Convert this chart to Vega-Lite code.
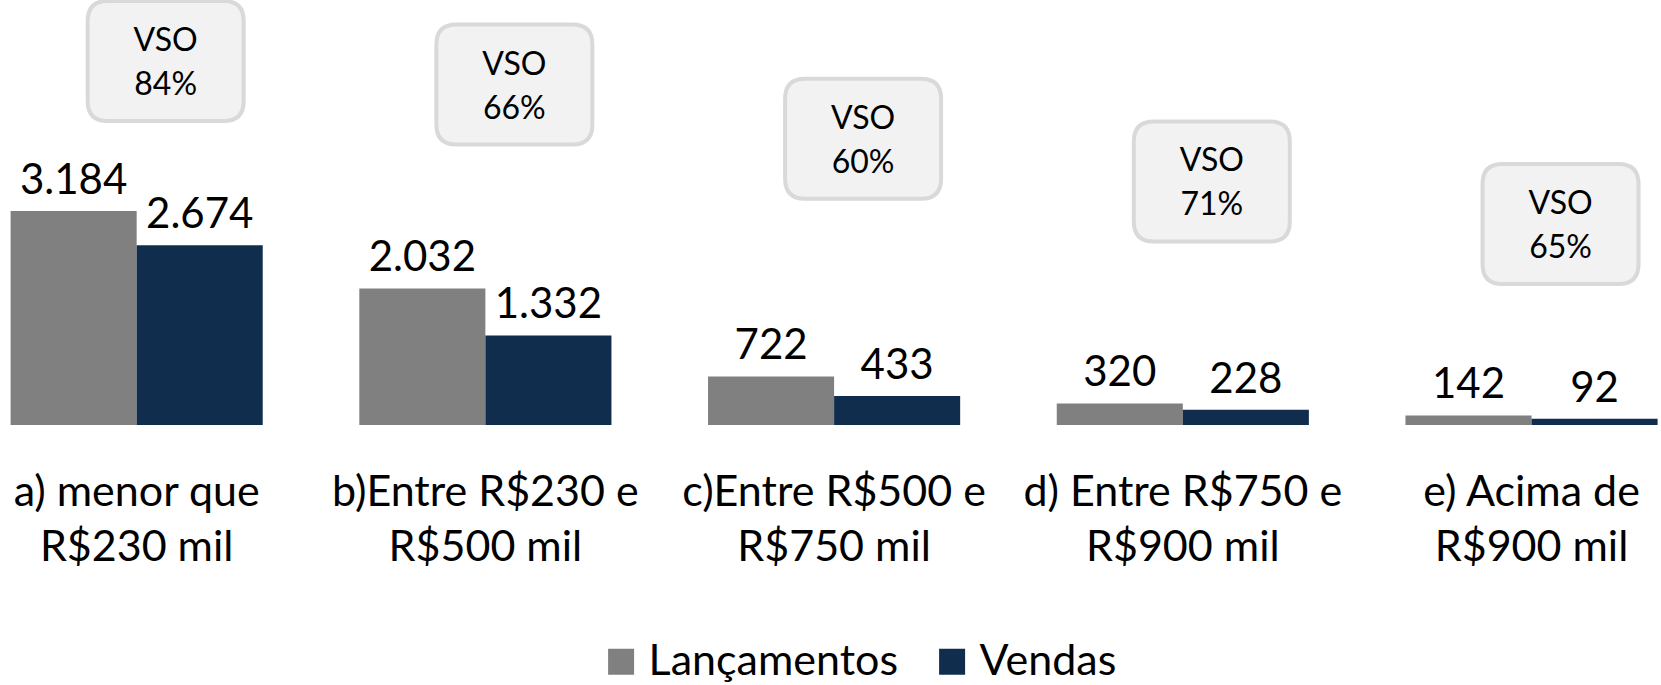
{
  "$schema": "https://vega.github.io/schema/vega-lite/v6.json",
  "width": 1647,
  "height": 425,
  "autosize": {"type": "none"},
  "padding": {"left": 10.6, "right": 3.4, "top": 0, "bottom": 260},
  "background": "white",
  "config": {
    "view": {"stroke": null},
    "locale": {"number": {"decimal": ",", "thousands": ".", "grouping": [3], "currency": ["R$", ""]}},
    "font": "Lato",
    "axis": {"domain": false, "ticks": false, "grid": false}
  },
  "datasets": {
    "barras": [
      {"faixa": "a) menor que R$230 mil", "serie": "Lançamentos", "valor": 3184},
      {"faixa": "a) menor que R$230 mil", "serie": "Vendas", "valor": 2674},
      {"faixa": "b)Entre R$230 e R$500 mil", "serie": "Lançamentos", "valor": 2032},
      {"faixa": "b)Entre R$230 e R$500 mil", "serie": "Vendas", "valor": 1332},
      {"faixa": "c)Entre R$500 e R$750 mil", "serie": "Lançamentos", "valor": 722},
      {"faixa": "c)Entre R$500 e R$750 mil", "serie": "Vendas", "valor": 433},
      {"faixa": "d) Entre R$750 e R$900 mil", "serie": "Lançamentos", "valor": 320},
      {"faixa": "d) Entre R$750 e R$900 mil", "serie": "Vendas", "valor": 228},
      {"faixa": "e) Acima de R$900 mil", "serie": "Lançamentos", "valor": 142},
      {"faixa": "e) Acima de R$900 mil", "serie": "Vendas", "valor": 92}
    ],
    "vso": [
      {"faixa": "a) menor que R$230 mil", "lancamentos": 3184, "vso": 0.84},
      {"faixa": "b)Entre R$230 e R$500 mil", "lancamentos": 2032, "vso": 0.66},
      {"faixa": "c)Entre R$500 e R$750 mil", "lancamentos": 722, "vso": 0.60},
      {"faixa": "d) Entre R$750 e R$900 mil", "lancamentos": 320, "vso": 0.71},
      {"faixa": "e) Acima de R$900 mil", "lancamentos": 142, "vso": 0.65}
    ]
  },
  "encoding": {
    "x": {
      "field": "faixa",
      "type": "nominal",
      "sort": null,
      "scale": {"paddingInner": 0.277, "paddingOuter": 0},
      "axis": {
        "title": null,
        "labelAngle": 0,
        "labelFont": "Lato",
        "labelFontSize": 43,
        "labelColor": "#000000",
        "labelLineHeight": 55,
        "labelBaseline": "top",
        "labelPadding": 46,
        "labelLimit": 0,
        "labelExpr": "[slice(datum.label, 0, lastindexof(datum.label, ' R$')), slice(datum.label, lastindexof(datum.label, ' R$') + 1)]"
      }
    }
  },
  "layer": [
    {
      "data": {"name": "barras"},
      "mark": {"type": "bar"},
      "encoding": {
        "xOffset": {"field": "serie", "type": "nominal", "scale": {"paddingInner": 0, "paddingOuter": 0}},
        "y": {"field": "valor", "type": "quantitative", "scale": {"domain": [0, 6323]}, "axis": null},
        "color": {
          "field": "serie",
          "type": "nominal",
          "scale": {"domain": ["Lançamentos", "Vendas"], "range": ["#808080", "#112D4E"]},
          "legend": {
            "title": null,
            "orient": "none",
            "direction": "horizontal",
            "legendX": 589,
            "legendY": 640,
            "padding": 0,
            "symbolType": "square",
            "symbolSize": 676,
            "symbolStrokeWidth": 0,
            "labelFont": "Lato",
            "labelFontSize": 43,
            "labelColor": "#000000",
            "labelLimit": 0,
            "labelOffset": 6,
            "columnPadding": 32
          }
        }
      }
    },
    {
      "data": {"name": "barras"},
      "mark": {"type": "text", "font": "Lato", "fontSize": 42, "color": "#000000", "baseline": "alphabetic", "dy": -17},
      "encoding": {
        "xOffset": {"field": "serie", "type": "nominal", "scale": {"paddingInner": 0, "paddingOuter": 0}},
        "y": {"field": "valor", "type": "quantitative", "scale": {"domain": [0, 6323]}, "axis": null},
        "text": {"field": "valor", "type": "quantitative", "format": ",d"}
      }
    },
    {
      "data": {"name": "vso"},
      "layer": [
        {
          "mark": {
            "type": "point",
            "filled": true,
            "fill": "#F2F2F2",
            "stroke": "#D9D9D9",
            "strokeWidth": 4,
            "opacity": 1,
            "size": 25600,
            "xOffset": 29,
            "shape": "M -0.725,-0.75 L 0.725,-0.75 Q 0.975,-0.75 0.975,-0.5 L 0.975,0.5 Q 0.975,0.75 0.725,0.75 L -0.725,0.75 Q -0.975,0.75 -0.975,0.5 L -0.975,-0.5 Q -0.975,-0.75 -0.725,-0.75 Z"
          },
          "encoding": {
            "y": {"field": "lancamentos", "type": "quantitative", "scale": {"type": "log", "domain": [3.07, 10190]}, "axis": null}
          }
        },
        {
          "mark": {"type": "text", "font": "Lato", "fontSize": 32, "color": "#000000", "baseline": "middle", "dy": -20, "xOffset": 29},
          "encoding": {
            "y": {"field": "lancamentos", "type": "quantitative", "scale": {"type": "log", "domain": [3.07, 10190]}, "axis": null},
            "text": {"value": "VSO"}
          }
        },
        {
          "mark": {"type": "text", "font": "Lato", "fontSize": 32, "color": "#000000", "baseline": "middle", "dy": 24, "xOffset": 29},
          "encoding": {
            "y": {"field": "lancamentos", "type": "quantitative", "scale": {"type": "log", "domain": [3.07, 10190]}, "axis": null},
            "text": {"field": "vso", "type": "quantitative", "format": ".0%"}
          }
        }
      ]
    }
  ],
  "resolve": {"scale": {"y": "independent"}}
}
